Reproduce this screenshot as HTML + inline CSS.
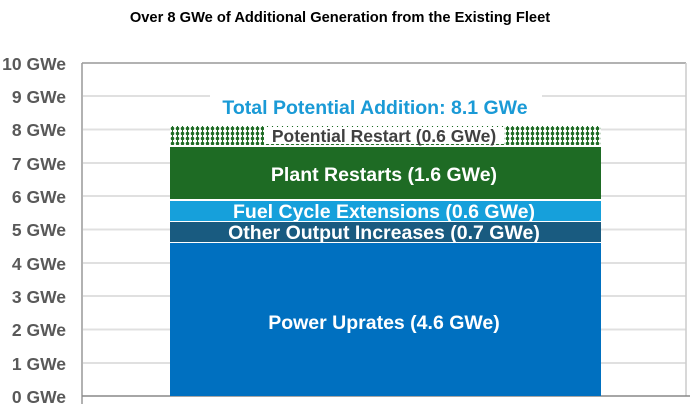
<!DOCTYPE html>
<html><head><style>
body{margin:0;background:#fff;}
</style></head><body>
<svg width="692" height="409" xmlns="http://www.w3.org/2000/svg" font-family="Liberation Sans, Arial, sans-serif" font-weight="bold">
<defs>
<pattern id="dots" width="5" height="5" patternUnits="userSpaceOnUse" x="170" y="126">
<rect width="5" height="5" fill="#fff"/>
<circle cx="2.5" cy="2.5" r="1.8" fill="#1e6b24"/>
<rect x="2" y="0" width="1" height="5" fill="#1e6b24"/>
</pattern>
</defs>
<text x="340" y="22" text-anchor="middle" font-size="14.7" fill="#000">Over 8 GWe of Additional Generation from the Existing Fleet</text>
<g stroke="#e0e0e0" stroke-width="2">
<line x1="83" y1="96" x2="210" y2="96"/><line x1="542" y1="96" x2="686" y2="96"/>
<line x1="83" y1="129.5" x2="686" y2="129.5"/>
<line x1="83" y1="163" x2="686" y2="163"/>
<line x1="83" y1="196" x2="686" y2="196"/>
<line x1="83" y1="229.5" x2="686" y2="229.5"/>
<line x1="83" y1="263" x2="686" y2="263"/>
<line x1="83" y1="296" x2="686" y2="296"/>
<line x1="83" y1="329.5" x2="686" y2="329.5"/>
<line x1="83" y1="363" x2="686" y2="363"/>
</g>
<line x1="82" y1="63" x2="686" y2="63" stroke="#999" stroke-width="1.5"/>
<line x1="82" y1="63" x2="82" y2="404" stroke="#999" stroke-width="1.5"/>
<line x1="686" y1="63" x2="686" y2="396" stroke="#ccc" stroke-width="1.5"/>
<line x1="82" y1="396" x2="690" y2="396" stroke="#888" stroke-width="1.5"/>
<g font-size="17.5" fill="#595959" text-anchor="end">
<text x="66" y="70">10 GWe</text><text x="66" y="103">9 GWe</text><text x="66" y="136">8 GWe</text>
<text x="66" y="170">7 GWe</text><text x="66" y="203">6 GWe</text><text x="66" y="236">5 GWe</text>
<text x="66" y="270">4 GWe</text><text x="66" y="303">3 GWe</text><text x="66" y="336">2 GWe</text>
<text x="66" y="370">1 GWe</text><text x="66" y="403">0 GWe</text>
</g>
<rect x="170" y="243" width="431" height="153" fill="#0070c0"/>
<rect x="170" y="222" width="431" height="20" fill="#195b80"/>
<rect x="170" y="201" width="431" height="20" fill="#16a0db"/>
<rect x="170" y="147" width="431" height="52" fill="#1e6b24"/>
<rect x="170" y="126" width="431" height="19" fill="url(#dots)"/>
<rect x="264" y="127" width="240" height="17" fill="#fff"/>
<text x="375" y="114" text-anchor="middle" font-size="19.5" fill="#1a9ad6">Total Potential Addition: 8.1  GWe</text>
<text x="384" y="142" text-anchor="middle" font-size="17.5" fill="#404040">Potential Restart (0.6 GWe)</text>
<text x="384" y="181" text-anchor="middle" font-size="19.5" fill="#fff">Plant Restarts (1.6 GWe)</text>
<text x="384" y="218" text-anchor="middle" font-size="19.5" fill="#fff">Fuel Cycle Extensions (0.6 GWe)</text>
<text x="384" y="239" text-anchor="middle" font-size="19.5" fill="#fff">Other Output Increases (0.7 GWe)</text>
<text x="384" y="329" text-anchor="middle" font-size="19.5" fill="#fff">Power Uprates (4.6 GWe)</text>
</svg>
</body></html>
